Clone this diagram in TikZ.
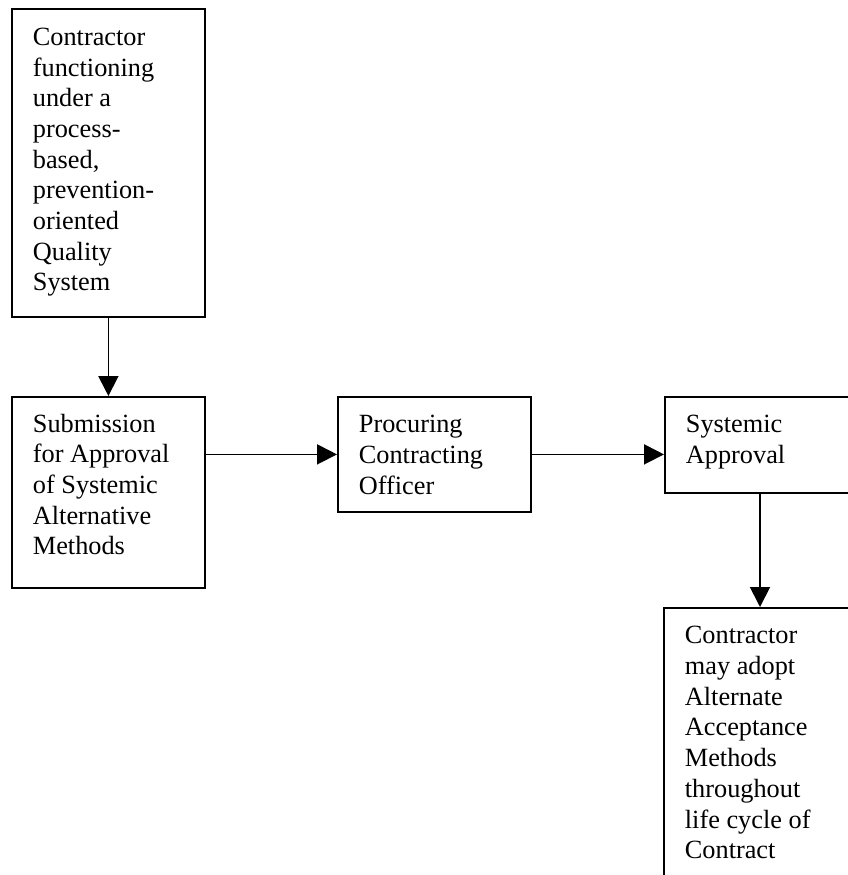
\documentclass[tikz,border=0pt]{standalone}
\usepackage{fontspec}
\setmainfont{Liberation Serif}
\usetikzlibrary{arrows.meta}
\begin{document}
\begin{tikzpicture}[x=1pt,y=-1pt,line width=1.8pt,
  box/.style={draw, rectangle, inner sep=0pt, anchor=north west},
  lbl/.style={anchor=north west, inner sep=0pt, align=left, font=\fontsize{26.3}{30.7}\selectfont},
  arr/.style={-{Triangle[length=20pt,width=20pt]}, line width=1.8pt}]
\useasboundingbox (0,0) rectangle (848,875);

\node[box, minimum width=193pt, minimum height=308pt] (b1) at (11,8) {};
\node[box, minimum width=193pt, minimum height=191pt] (b2) at (11,396) {};
\node[box, minimum width=193pt, minimum height=115pt] (b3) at (337,396) {};
\node[box, minimum width=216pt, minimum height=96pt] (b4) at (664,396) {};
\node[box, minimum width=217pt, minimum height=293pt] (b5) at (663,607) {};

\node[lbl] (t1) at ([shift={(21,19)}]b1.north west) {Contractor\\functioning\\under a\\process-\\based,\\prevention-\\oriented\\Quality\\System};
\node[lbl] (t2) at ([shift={(21,17)}]b2.north west) {Submission\\for Approval\\of Systemic\\Alternative\\Methods};
\node[lbl] (t3) at ([shift={(21,18.5)}]b3.north west) {Procuring\\Contracting\\Officer};
\node[lbl] (t4) at ([shift={(21,18.5)}]b4.north west) {Systemic\\Approval};
\node[lbl] (t5) at ([shift={(21,18.5)}]b5.north west) {Contractor\\may adopt\\Alternate\\Acceptance\\Methods\\throughout\\life cycle of\\Contract};

\coordinate (d1) at ([xshift=96pt]b4.south west);
\draw[arr] (b1.south) -- (b2.north);
\draw[arr] (b2.east |- b3.west) -- (b3.west);
\draw[arr] (b3.east) -- (b3.east -| b4.west);
\draw[arr] (d1) -- (d1 |- b5.north);
\end{tikzpicture}
\end{document}
